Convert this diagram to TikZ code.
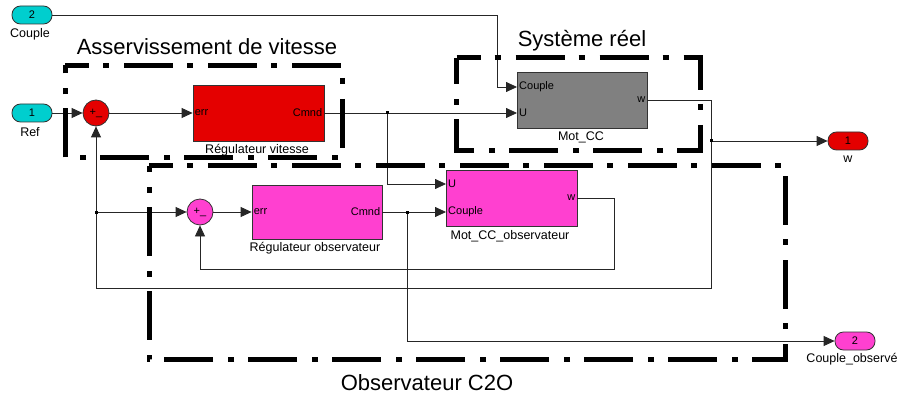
\documentclass[tikz,border=0pt]{standalone}
\usepackage{fontspec}
\setmainfont{Liberation Sans}
\usetikzlibrary{arrows.meta}
\definecolor{simred}{RGB}{228,0,0}
\definecolor{simpink}{RGB}{255,64,208}
\definecolor{simcyan}{RGB}{0,206,206}
\definecolor{simgray}{RGB}{128,128,128}
\tikzset{
  blk/.style={draw=black!80,line width=0.8pt,inner sep=0pt},
  pill/.style={draw=black!80,line width=0.8pt,rounded corners=8.5pt,minimum width=40pt,minimum height=18pt,inner sep=0pt,font=\fontsize{11}{11}\selectfont},
  summ/.style={circle,draw=black!80,line width=0.8pt,minimum size=26pt,inner sep=0pt,font=\fontsize{11}{11}\selectfont},
  wire/.style={line width=0.8pt,draw=black!85},
  port/.style={inner sep=2pt,font=\fontsize{11}{11}\selectfont},
  captxt/.style={inner sep=0pt,font=\fontsize{12.5}{12.5}\selectfont},
  ttl/.style={inner sep=0pt,font=\fontsize{22}{22}\selectfont},
  grp/.style={line width=5pt,dash pattern=on 49pt off 14pt on 6pt off 15pt,dash phase=25pt}
}
\begin{document}
\begin{tikzpicture}[x=1pt,y=-1pt,>={Triangle[length=11pt,width=10pt]}]
\useasboundingbox (0,0) rectangle (902,401);

\node[pill,fill=simcyan] (inC) at (32,15) {2};
\node[pill,fill=simcyan] (inR) at (32,113) {1};
\node[summ,fill=simred] (s1) at (96,113) {+\_};
\node[blk,fill=simred,minimum width=131pt,minimum height=56pt] (regv) at (258.5,113) {};
\node[blk,fill=simgray,minimum width=130pt,minimum height=56pt] (mcc) at (582,100) {};
\node[summ,fill=simpink] (s2) at (200,212) {+\_};
\node[blk,fill=simpink,minimum width=130pt,minimum height=54pt] (rego) at (317,212) {};
\node[blk,fill=simpink,minimum width=131pt,minimum height=56pt] (mcco) at (511.5,198) {};
\node[pill,fill=simred] (outw) at (848,141) {1};
\node[pill,fill=simpink] (outc) at (855,341) {2};

\coordinate (mccC) at (517,87);
\coordinate (mccU) at (517,113);
\coordinate (mccoU) at (446,184);
\coordinate (mccoC) at (446,212);
\coordinate (b1) at (387,113);
\coordinate (b2) at (711,141);
\coordinate (b3) at (96,288);
\coordinate (b4) at (96,212);
\coordinate (b5) at (407,212);
\coordinate (c1) at (614,269);

\node[port,anchor=west] (regvE) at (regv.west) {err};
\node[port,anchor=east] (regvC) at (regv.east) {Cmnd};
\node[port,anchor=west] (mccCt) at (mccC) {Couple};
\node[port,anchor=west] (mccUt) at (mccU) {U};
\node[port,anchor=east] (mccW) at (mcc.east) {w};
\node[port,anchor=west] (regoE) at (rego.west) {err};
\node[port,anchor=east] (regoC) at (rego.east) {Cmnd};
\node[port,anchor=west] (mccoUt) at (mccoU) {U};
\node[port,anchor=west] (mccoCt) at (mccoC) {Couple};
\node[port,anchor=east] (mccoW) at (mcco.east) {w};

\node[captxt] (lC) at (30,34) {Couple};
\node[captxt] (lR) at (30,132) {Ref};
\node[captxt] (capRv) at (257,150) {Régulateur vitesse};
\node[captxt] (capM) at (581,137) {Mot\_CC};
\node[captxt] (capRo) at (315,248) {Régulateur observateur};
\node[captxt] (capMo) at (510,236) {Mot\_CC\_observateur};
\node[captxt] (lw) at (848,159) {w};
\node[captxt] (lco) at (852,359) {Couple\_observé};

\draw[wire,->] (inC.east) -| ([xshift=-20pt]mccC) -- (mccC);
\draw[wire,->] (inR) -- (s1);
\draw[wire,->] (s1) -- (regv);
\draw[wire,->] (regv.east) -- (mccU);
\draw[wire,->] (b1) |- (mccoU);
\draw[wire] (mcc.east) -| (b2);
\draw[wire,->] (b2) -- (outw);
\draw[wire,->] (b2) |- (b3) -- (s1);
\draw[wire,->] (b4) -- (s2);
\draw[wire,->] (s2) -- (rego);
\draw[wire,->] (rego.east) -- (mccoC);
\draw[wire,->] (b5) |- (outc);
\draw[wire,->] (mcco.east) -| (c1) -| (s2);
\foreach \p in {b1,b2,b4,b5}
  \fill (\p) ++(-1.5,-1.5) rectangle ++(3,3);

\draw[grp] (65,65.5) -- (342.5,65.5) -- (342.5,157.5) -- (65,157.5) -- cycle;
\draw[grp] (456.5,58) -- (700.5,58) -- (700.5,150.5) -- (456.5,150.5) -- cycle;
\draw[grp] (149,165.5) -- (785.5,165.5) -- (785.5,359.5) -- (149,359.5) -- cycle;

\node[ttl] (tA) at (207,47) {Asservissement de vitesse};
\node[ttl] (tS) at (582,41) {Système réel};
\node[ttl] (tO) at (427,383) {Observateur C2O};
\end{tikzpicture}
\end{document}
